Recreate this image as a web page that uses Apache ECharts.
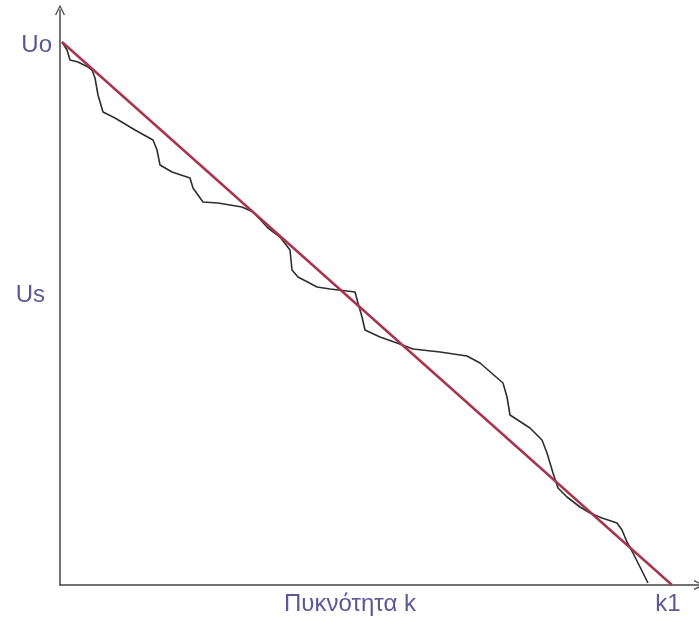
<!DOCTYPE html>
<html>
<head>
    <meta charset="utf-8">
    <title>Πυκνότητα k</title>
    <script src="https://cdnjs.cloudflare.com/ajax/libs/echarts/6.0.0/echarts.min.js"></script>
    <style>
        html, body {
            margin: 0;
            padding: 0;
            background-color: #fff;
        }
        #chart {
            width: 699px;
            height: 625px;
        }
    </style>
</head>
<body>
    <div id="chart"></div>
    <script>
        // measured curve (density k, speed U)
        const curveK = [2, 7, 10, 18, 28, 32, 35, 38, 43, 55, 75, 93, 97, 100, 112, 130, 133, 143, 158, 182,
            193, 208, 220, 230, 232, 238, 257, 270, 295, 298, 302, 305, 320, 337, 353, 380, 407, 420, 443, 447,
            450, 470, 482, 487, 493, 498, 507, 520, 530, 542, 557, 562, 567, 573, 580, 588];
        const curveU = [543, 535, 525, 523, 518, 515, 507, 490, 473, 467, 455, 445, 435, 420, 413, 407, 397, 383, 382, 378,
            373, 357, 348, 335, 315, 308, 298, 296, 293, 282, 268, 255, 248, 242, 236, 233, 229, 222, 202, 188,
            170, 157, 145, 132, 112, 97, 88, 78, 72, 67, 62, 55, 43, 32, 18, 2];
        // linear fit: from (0, Uo) to (k1, 0)
        const fitK = [2, 612];
        const fitU = [543, 0];
        // axis labels
        const yTickValues = [290, 540];
        const yTickLabels = ['{us|Us}', 'Uo'];
        const xTickValues = [290, 608];
        const xTickLabels = ['Πυκνότητα k', 'k1'];

        const arrow = 'path://M0,12 L6,0 L12,12 L10.6,12.6 L6,3 L1.4,12.6 Z';
        const labelColor = '#5a5896';

        const chart = echarts.init(document.getElementById('chart'));
        const option = {
            animation: false,
            grid: { left: 60, right: 0, top: 10, bottom: 40 },
            xAxis: {
                type: 'value',
                min: 0,
                max: 639,
                splitLine: { show: false },
                axisTick: { show: false },
                axisLine: {
                    lineStyle: { color: '#444', width: 1.5 },
                    symbol: ['none', arrow],
                    symbolSize: [10, 12]
                },
                axisLabel: {
                    customValues: xTickValues,
                    formatter: v => xTickLabels[xTickValues.indexOf(v)],
                    color: labelColor,
                    fontFamily: 'Liberation Sans, Arial, sans-serif',
                    fontSize: 24,
                    margin: 7
                }
            },
            yAxis: {
                type: 'value',
                min: 0,
                max: 575,
                splitLine: { show: false },
                axisTick: { show: false },
                axisLine: {
                    lineStyle: { color: '#444', width: 1.5 },
                    symbol: ['none', arrow],
                    symbolSize: [10, 12]
                },
                axisLabel: {
                    customValues: yTickValues,
                    formatter: v => yTickLabels[yTickValues.indexOf(v)],
                    color: labelColor,
                    fontFamily: 'Liberation Sans, Arial, sans-serif',
                    fontSize: 24,
                    margin: 8,
                    rich: {
                        us: {
                            color: labelColor,
                            fontFamily: 'Liberation Sans, Arial, sans-serif',
                            fontSize: 24,
                            padding: [0, 7, 0, 0]
                        }
                    }
                }
            },
            series: [
                {
                    name: 'curve',
                    type: 'line',
                    data: curveK.map((k, i) => [k, curveU[i]]),
                    showSymbol: false,
                    lineStyle: { color: '#2e2e2e', width: 1.6 },
                    z: 2
                },
                {
                    name: 'fit',
                    type: 'line',
                    data: fitK.map((k, i) => [k, fitU[i]]),
                    showSymbol: false,
                    lineStyle: { color: '#a8344e', width: 2.5 },
                    z: 3
                }
            ]
        };
        chart.setOption(option);
    </script>
</body>
</html>
